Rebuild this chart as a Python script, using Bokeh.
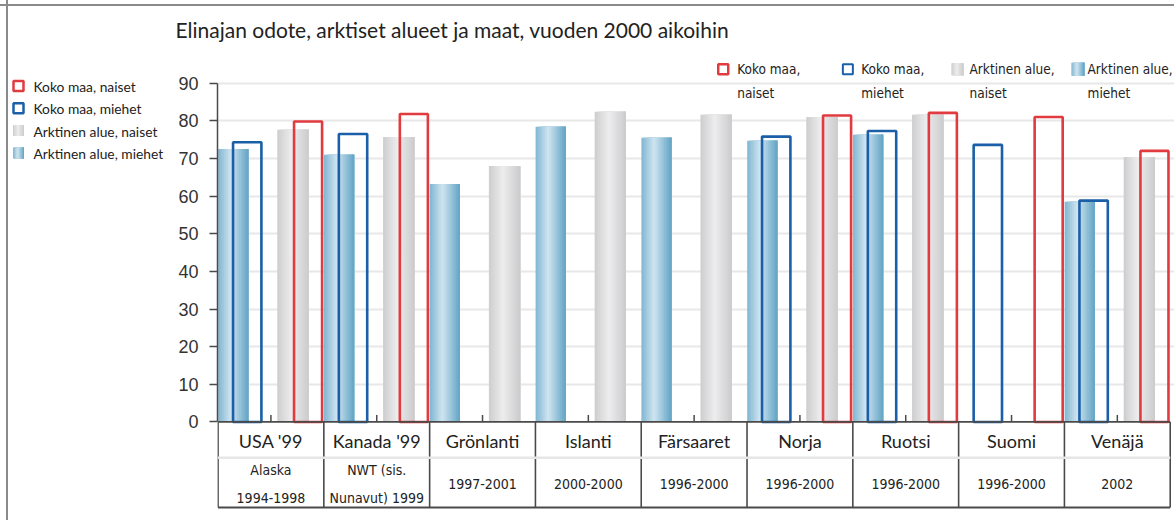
import numpy as np
from bokeh.plotting import figure
from bokeh.layouts import row
from bokeh.models import Range1d, FixedTicker, ColumnDataSource
from bokeh.core.properties import value
from bokeh.transform import dodge
from bokeh.embed import file_html
from bokeh.resources import INLINE

nan = float("nan")

# ---------------- data ----------------
categories = ["USA '99", "Kanada '99", "Grönlanti", "Islanti", "Färsaaret",
              "Norja", "Ruotsi", "Suomi", "Venäjä"]
periods = ["Alaska\n1994-1998", "NWT (sis.\nNunavut) 1999", "1997-2001", "2000-2000",
           "1996-2000", "1996-2000", "1996-2000", "1996-2000", "2002"]
arctic_men = [72.5, 71.0, 63.2, 78.4, 75.5, 74.7, 76.3, nan, 58.5]
national_men = [74.3, 76.5, nan, nan, nan, 75.8, 77.3, 73.6, 58.8]
arctic_women = [77.6, 75.7, 68.0, 82.4, 81.6, 81.0, 81.6, nan, 70.4]
national_women = [79.8, 81.8, nan, nan, nan, 81.4, 82.1, 81.0, 72.0]
y_ticks = list(range(0, 91, 10))
title_text = "Elinajan odote, arktiset alueet ja maat, vuoden 2000 aikoihin"
side_legend_labels = ["Koko maa, naiset", "Koko maa, miehet",
                      "Arktinen alue, naiset", "Arktinen alue, miehet"]
top_legend_labels = ["Koko maa,\nnaiset", "Koko maa,\nmiehet",
                     "Arktinen alue,\nnaiset", "Arktinen alue,\nmiehet"]

# ---------------- style ----------------
RED = "#e13a3f"
BLUE = "#1a5fa7"
DARK = "#4a4a4a"
TXT = "#222222"
FRAME_LINE = "#8a8a8a"
GILL = "Lato"
COND = "DejaVu Sans Condensed"
BLUE_STOPS = [(0.0, (128, 182, 209)), (0.42, (208, 229, 240)), (1.0, (98, 163, 196))]
GREY_STOPS = [(0.0, (205, 205, 207)), (0.45, (237, 237, 238)), (1.0, (203, 203, 205))]
NSTRIP = 16


def grad(stops, t):
    for (t0, c0), (t1, c1) in zip(stops[:-1], stops[1:]):
        if t <= t1:
            f = (t - t0) / (t1 - t0) if t1 > t0 else 0
            c = [round(a + (b - a) * f) for a, b in zip(c0, c1)]
            return "#%02x%02x%02x" % tuple(c)
    return "#%02x%02x%02x" % stops[-1][1]


n = len(categories)
# layout (pixels)
BORDER_TOP, BORDER_BOTTOM = 45, 10
FRAME_H = 465
LEFT_W = 170
MAIN_LEFT, FRAME_W = 47, 957
CAT_PX = 105.8
x_lo = -0.005
x_hi = x_lo + FRAME_W / CAT_PX
y_hi = 100
y_lo = -23.52
px_x = CAT_PX
px_y = FRAME_H / (y_hi - y_lo)

src = ColumnDataSource(dict(
    i=np.arange(n, dtype=float),
    am=np.array(arctic_men, dtype=float),
    nm=np.array(national_men, dtype=float),
    aw=np.array(arctic_women, dtype=float),
    nw=np.array(national_women, dtype=float),
))

p = figure(width=MAIN_LEFT + FRAME_W, height=BORDER_TOP + FRAME_H + BORDER_BOTTOM,
           x_range=Range1d(x_lo, x_hi), y_range=Range1d(y_lo, y_hi),
           output_backend="svg", toolbar_location=None, x_axis_location=None,
           min_border_left=MAIN_LEFT, min_border_right=0, min_border_top=BORDER_TOP,
           min_border_bottom=BORDER_BOTTOM, title=title_text)
p.outline_line_color = None
p.border_fill_color = None
p.background_fill_color = "white"
p.xgrid.visible = False
p.ygrid.ticker = FixedTicker(ticks=y_ticks[1:])
p.ygrid.grid_line_color = "#e8e8e8"
p.ygrid.grid_line_width = 2
p.ygrid.bounds = (0, 90)
p.yaxis.ticker = FixedTicker(ticks=y_ticks)
p.yaxis.bounds = (0, 90)
p.yaxis.axis_line_color = DARK
p.yaxis.axis_line_width = 1.5
p.yaxis.major_tick_line_color = DARK
p.yaxis.major_tick_line_width = 1.5
p.yaxis.major_tick_out = 8
p.yaxis.major_tick_in = 0
p.yaxis.minor_tick_out = 0
p.yaxis.minor_tick_in = 0
p.yaxis.major_label_standoff = 11
p.yaxis.major_label_text_font = "Liberation Sans"
p.yaxis.major_label_text_font_size = "18px"
p.yaxis.major_label_text_color = "#333333"

p.title.text_font = GILL
p.title.text_font_size = "21px"
p.title.text_font_style = "normal"
p.title.text_color = TXT
p.title.offset = -42
p.title.standoff = 7

# bar geometry inside a category (category units)
AM_C, AM_W = 0.144, 0.285
NM_C, NM_W = 0.276, 0.268
AW_C, AW_W = 0.708, 0.296
NW_C, NW_W = 0.851, 0.265


def gradient_bars(field, c, w, stops):
    left = c - w / 2
    right = c + w / 2
    for k in range(NSTRIP):
        l = left + k * w / NSTRIP
        col = grad(stops, (k + 0.5) / NSTRIP)
        p.vbar(x=dodge("i", (l + right) / 2), width=right - l, bottom=0, top=field,
               source=src, fill_color=col, line_color=None)


gradient_bars("am", AM_C, AM_W, BLUE_STOPS)
gradient_bars("aw", AW_C, AW_W, GREY_STOPS)
p.vbar(x=dodge("i", NM_C), width=NM_W, bottom=0, top="nm", source=src,
       fill_color=None, line_color=BLUE, line_width=2.6)
p.vbar(x=dodge("i", NW_C), width=NW_W, bottom=0, top="nw", source=src,
       fill_color=None, line_color=RED, line_width=2.6)

# ---------------- category table below the axis ----------------
bounds = np.arange(n + 1, dtype=float)
centers = np.arange(n, dtype=float) + 0.5
row_line_y = -9.5
bottom_y = -22.7
p.segment(x0=bounds, x1=bounds, y0=0, y1=bottom_y, line_color=DARK, line_width=1.6)
p.segment(x0=[0.0], x1=[float(n)], y0=[row_line_y], y1=[row_line_y], line_color="#e6e6e6", line_width=2.5)
p.segment(x0=[0.0], x1=[float(n)], y0=[bottom_y], y1=[bottom_y], line_color=DARK, line_width=2)
p.segment(x0=[0.0], x1=[float(n)], y0=[0.0], y1=[0.0], line_color=DARK, line_width=1.8)
p.segment(x0=centers, x1=centers, y0=0, y1=7 / px_y, line_color=DARK, line_width=1.5)
p.text(x=centers, y=-5.0, text=categories, text_align="center", text_baseline="middle",
       text_font=value(GILL), text_font_size=value("18px"), text_color=TXT)
p.text(x=centers, y=-16.4, text=periods, text_align="center", text_baseline="middle",
       text_font=value(COND), text_font_size=value("14px"), text_color=TXT, text_line_height=1.75)

# ---------------- top legend (inside frame, above 90) ----------------
leg_x = [4.775, 5.953, 6.988, 8.127]
leg_dx = [14, 13.4, 12.2, 9.7]
leg_y = 93.69
l1 = [s.split("\n")[0] for s in top_legend_labels]
l2 = [s.split("\n")[1] for s in top_legend_labels]
p.text(x=leg_x, y=leg_y, x_offset=leg_dx, text=l1, text_baseline="middle",
       text_font=value(COND), text_font_size=value("13.5px"), text_color=TXT)
p.text(x=leg_x, y=leg_y - 24 / px_y, x_offset=leg_dx, text=l2, text_baseline="middle",
       text_font=value(COND), text_font_size=value("13.5px"), text_color=TXT)
p.rect(x=[leg_x[0]], y=[leg_y], width=10, height=10, width_units="screen", height_units="screen",
       fill_color=None, line_color=RED, line_width=2.5)
p.rect(x=[leg_x[1]], y=[leg_y], width=10, height=10, width_units="screen", height_units="screen",
       fill_color=None, line_color=BLUE, line_width=2)


def grad_swatch(fig, cx, cy, wpx, hpx, stops, sx):
    for k in range(NSTRIP):
        l = -wpx / 2 + k * wpx / NSTRIP
        r = wpx / 2
        fig.rect(x=[cx + (l + r) / 2 / sx], y=[cy], width=r - l, height=hpx,
                 width_units="screen", height_units="screen",
                 fill_color=grad(stops, (k + 0.5) / NSTRIP), line_color=None)


grad_swatch(p, leg_x[2], leg_y, 12, 12, GREY_STOPS, px_x)
grad_swatch(p, leg_x[3], leg_y, 13, 13, BLUE_STOPS, px_x)

# ---------------- side legend (left figure, pixel coordinates of its frame) ----------------
pl = figure(width=LEFT_W, height=BORDER_TOP + FRAME_H + BORDER_BOTTOM,
            x_range=Range1d(0, LEFT_W), y_range=Range1d(FRAME_H, 0),
            output_backend="svg", toolbar_location=None, x_axis_location=None, y_axis_location=None,
            min_border_left=0, min_border_right=0, min_border_top=BORDER_TOP,
            min_border_bottom=BORDER_BOTTOM)
pl.outline_line_color = None
pl.border_fill_color = None
pl.background_fill_color = None
pl.grid.visible = False
sy = [41 + 22.3 * k for k in range(4)]
pl.text(x=33, y=sy, text=side_legend_labels, text_baseline="middle",
        text_font=value(GILL), text_font_size=value("13.8px"), text_color=TXT)
pl.rect(x=[18], y=[sy[0] - 0.5], width=10, height=10, fill_color=None, line_color=RED, line_width=2.5)
pl.rect(x=[18], y=[sy[1] - 0.5], width=10, height=10, fill_color=None, line_color=BLUE, line_width=2.5)
grad_swatch(pl, 18, sy[2] - 0.5, 11, 11, GREY_STOPS, 1.0)
grad_swatch(pl, 18, sy[3] - 0.5, 11, 11, BLUE_STOPS, 1.0)

frame_lines = {
    "background-color": "white",
    "background-image": f"linear-gradient({FRAME_LINE},{FRAME_LINE}), linear-gradient({FRAME_LINE},{FRAME_LINE})",
    "background-size": "100% 2px, 2px 100%",
    "background-position": "0px 4px, 6px 0px",
    "background-repeat": "no-repeat",
}
layout = row(pl, p, styles=frame_lines)
open("out.html", "w").write(file_html(layout, INLINE))
